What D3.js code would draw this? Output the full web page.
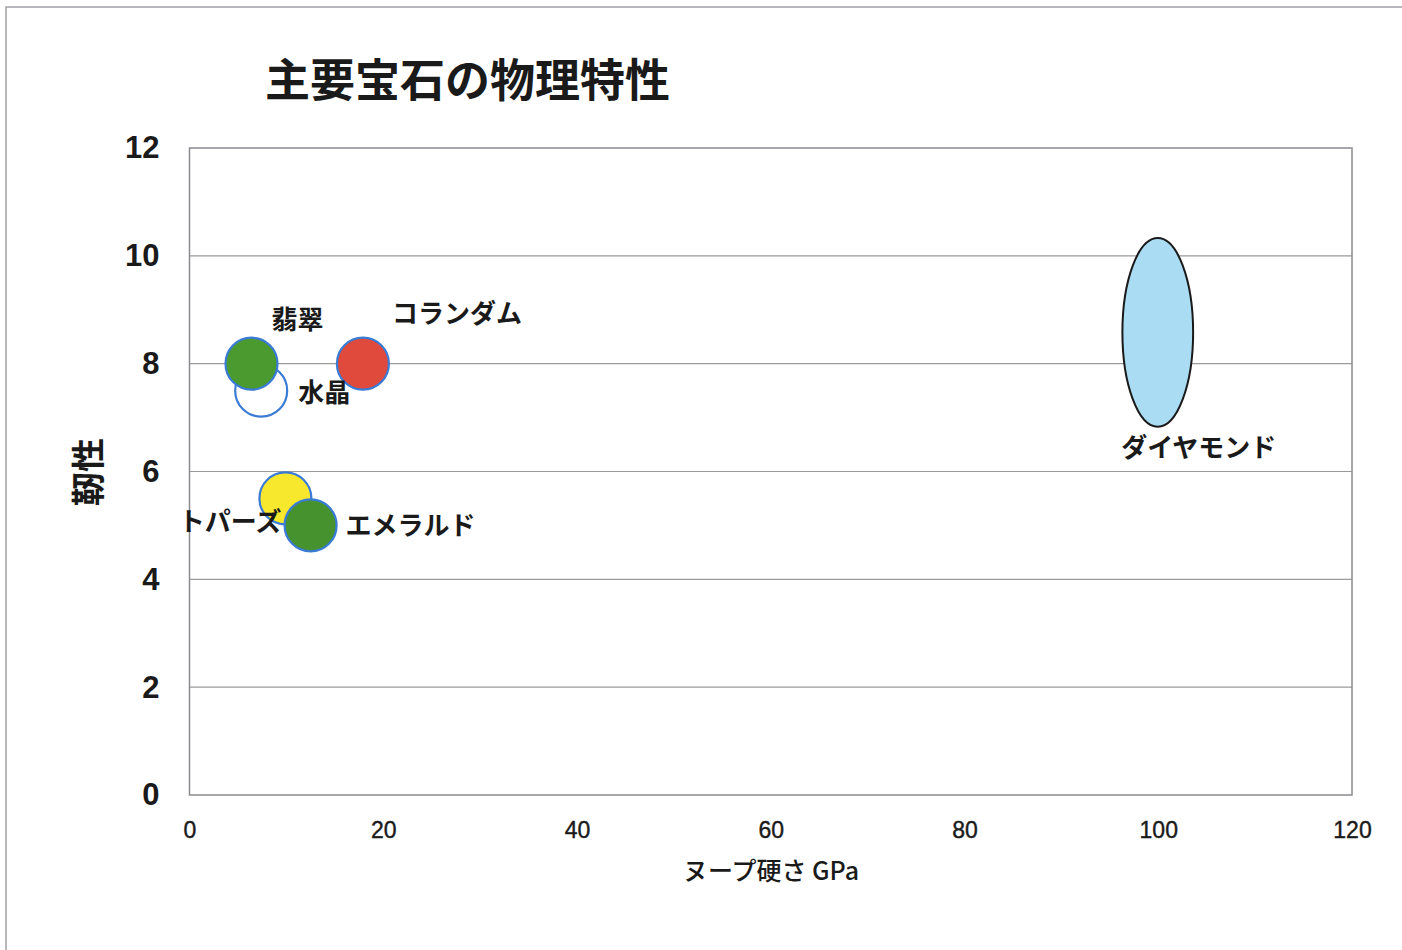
<!DOCTYPE html>
<html>
<head>
<meta charset="utf-8">
<script src="https://cdn.jsdelivr.net/npm/d3@7/dist/d3.min.js"></script>
<style>
  html, body { margin: 0; padding: 0; background: #fff; }
  svg { display: block; }
</style>
</head>
<body>
<svg id="chart" width="1402" height="950"></svg>
<script>
// ---- data ----
const title = "主要宝石の物理特性";
const xTitle = "ヌープ硬さ GPa";
const yTitle = "靭性";
const gems = ["水晶", "翡翠", "コランダム", "トパーズ", "エメラルド"];
const hardness = [7.4, 6.4, 17.9, 9.9, 12.5];      // GPa
const toughness = [7.5, 8.0, 8.0, 5.5, 5.0];
const gemColors = ["#ffffff", "#4b9a30", "#e04a3c", "#f7e82e", "#45922e"];
const diamondName = "ダイヤモンド";
const diamondHardness = [96.3, 103.6];  // range
const diamondToughness = [6.83, 10.33]; // range
const xTicks = [0, 20, 40, 60, 80, 100, 120];
const yTicks = [0, 2, 4, 6, 8, 10, 12];

// ---- layout ----
const svg = d3.select("#chart");
const pLeft = 189.5, pRight = 1352, pTop = 148, pBottom = 795;
const x = d3.scaleLinear().domain([0, 120]).range([pLeft, pRight]);
const y = d3.scaleLinear().domain([0, 12]).range([pBottom, pTop]);
const R = 26;

svg.append("rect").attr("width", 1402).attr("height", 950).attr("fill", "#fff");
// outer frame (extends beyond the page on right/bottom)
svg.append("path").attr("d", "M6,960 L6,7 L1410,7")
  .attr("fill", "none").attr("stroke", "#a0a0a8").attr("stroke-width", 1.5);

// title
svg.append("text").text(title)
  .attr("x", 265).attr("y", 97)
  .attr("font-family", "'Noto Sans CJK JP', sans-serif")
  .attr("font-weight", "bold").attr("font-size", 45).attr("fill", "#1a1a1a");

// gridlines
svg.append("g").selectAll("line").data(yTicks.filter(d => d > 0 && d < 12)).join("line")
  .attr("x1", pLeft).attr("x2", pRight).attr("y1", d => y(d)).attr("y2", d => y(d))
  .attr("stroke", "#9a9a9a").attr("stroke-width", 1.2);

// plot border
svg.append("rect").attr("x", pLeft).attr("y", pTop)
  .attr("width", pRight - pLeft).attr("height", pBottom - pTop)
  .attr("fill", "none").attr("stroke", "#8a8a90").attr("stroke-width", 1.5);

// axes
const xAxis = svg.append("g").attr("transform", `translate(0,${pBottom})`)
  .call(d3.axisBottom(x).tickValues(xTicks).tickSize(0).tickPadding(27).tickFormat(d3.format("d")));
xAxis.select(".domain").remove();
xAxis.selectAll("text")
  .attr("font-family", "'Liberation Sans', Arial, sans-serif")
  .attr("font-size", 23).attr("fill", "#1a1a1a")
  .attr("stroke", "#1a1a1a").attr("stroke-width", 0.4);

const yAxis = svg.append("g").attr("transform", `translate(${pLeft},0)`)
  .call(d3.axisLeft(y).tickValues(yTicks).tickSize(0).tickPadding(30).tickFormat(d3.format("d")));
yAxis.select(".domain").remove();
yAxis.selectAll("text")
  .attr("font-family", "'Liberation Sans', Arial, sans-serif")
  .attr("font-weight", "bold").attr("font-size", 31).attr("fill", "#1a1a1a");

// axis titles
svg.append("text").text(xTitle)
  .attr("x", 771).attr("y", 880).attr("text-anchor", "middle")
  .attr("font-family", "'Noto Sans CJK JP', sans-serif")
  .attr("font-weight", 500)
  .attr("font-size", 25).attr("fill", "#1a1a1a");
svg.append("text").text(yTitle)
  .attr("transform", "translate(101,472) rotate(-90)")
  .attr("text-anchor", "middle")
  .attr("font-family", "'Noto Sans CJK JP', sans-serif")
  .attr("font-weight", "bold").attr("font-size", 34).attr("fill", "#1a1a1a");

// bubbles
const pts = gems.map((g, i) => ({ name: g, hx: hardness[i], ty: toughness[i], color: gemColors[i] }));
svg.append("g").selectAll("circle").data(pts).join("circle")
  .attr("cx", d => x(d.hx)).attr("cy", d => y(d.ty)).attr("r", R)
  .attr("fill", d => d.color).attr("stroke", "#3a7bd5").attr("stroke-width", 2.2);

// diamond ellipse
svg.append("ellipse")
  .attr("cx", x(d3.mean(diamondHardness))).attr("cy", y(d3.mean(diamondToughness)))
  .attr("rx", (x(diamondHardness[1]) - x(diamondHardness[0])) / 2)
  .attr("ry", (y(diamondToughness[0]) - y(diamondToughness[1])) / 2)
  .attr("fill", "#aadcf3").attr("stroke", "#1a1a1a").attr("stroke-width", 2);

// labels (pixel offsets from marker)
const labelStyle = {
  "水晶": { dx: 37, dy: 11, anchor: "start" },
  "翡翠": { dx: 46, dy: -35, anchor: "middle" },
  "コランダム": { dx: 94, dy: -41, anchor: "middle" },
  "トパーズ": { dx: -4, dy: 33, anchor: "end" },
  "エメラルド": { dx: 35, dy: 10, anchor: "start" }
};
const fontLab = "'Noto Sans CJK JP', sans-serif";
svg.append("g").selectAll("text").data(pts).join("text")
  .text(d => d.name)
  .attr("x", d => x(d.hx) + labelStyle[d.name].dx)
  .attr("y", d => y(d.ty) + labelStyle[d.name].dy)
  .attr("text-anchor", d => labelStyle[d.name].anchor)
  .attr("font-family", fontLab).attr("font-weight", "bold")
  .attr("font-size", 26).attr("fill", "#1a1a1a");
svg.append("text").text(diamondName)
  .attr("x", x(d3.mean(diamondHardness)) + 41)
  .attr("y", y(diamondToughness[0]) + 30)
  .attr("text-anchor", "middle")
  .attr("font-family", fontLab).attr("font-weight", "bold")
  .attr("font-size", 26).attr("fill", "#1a1a1a");
</script>
</body>
</html>
